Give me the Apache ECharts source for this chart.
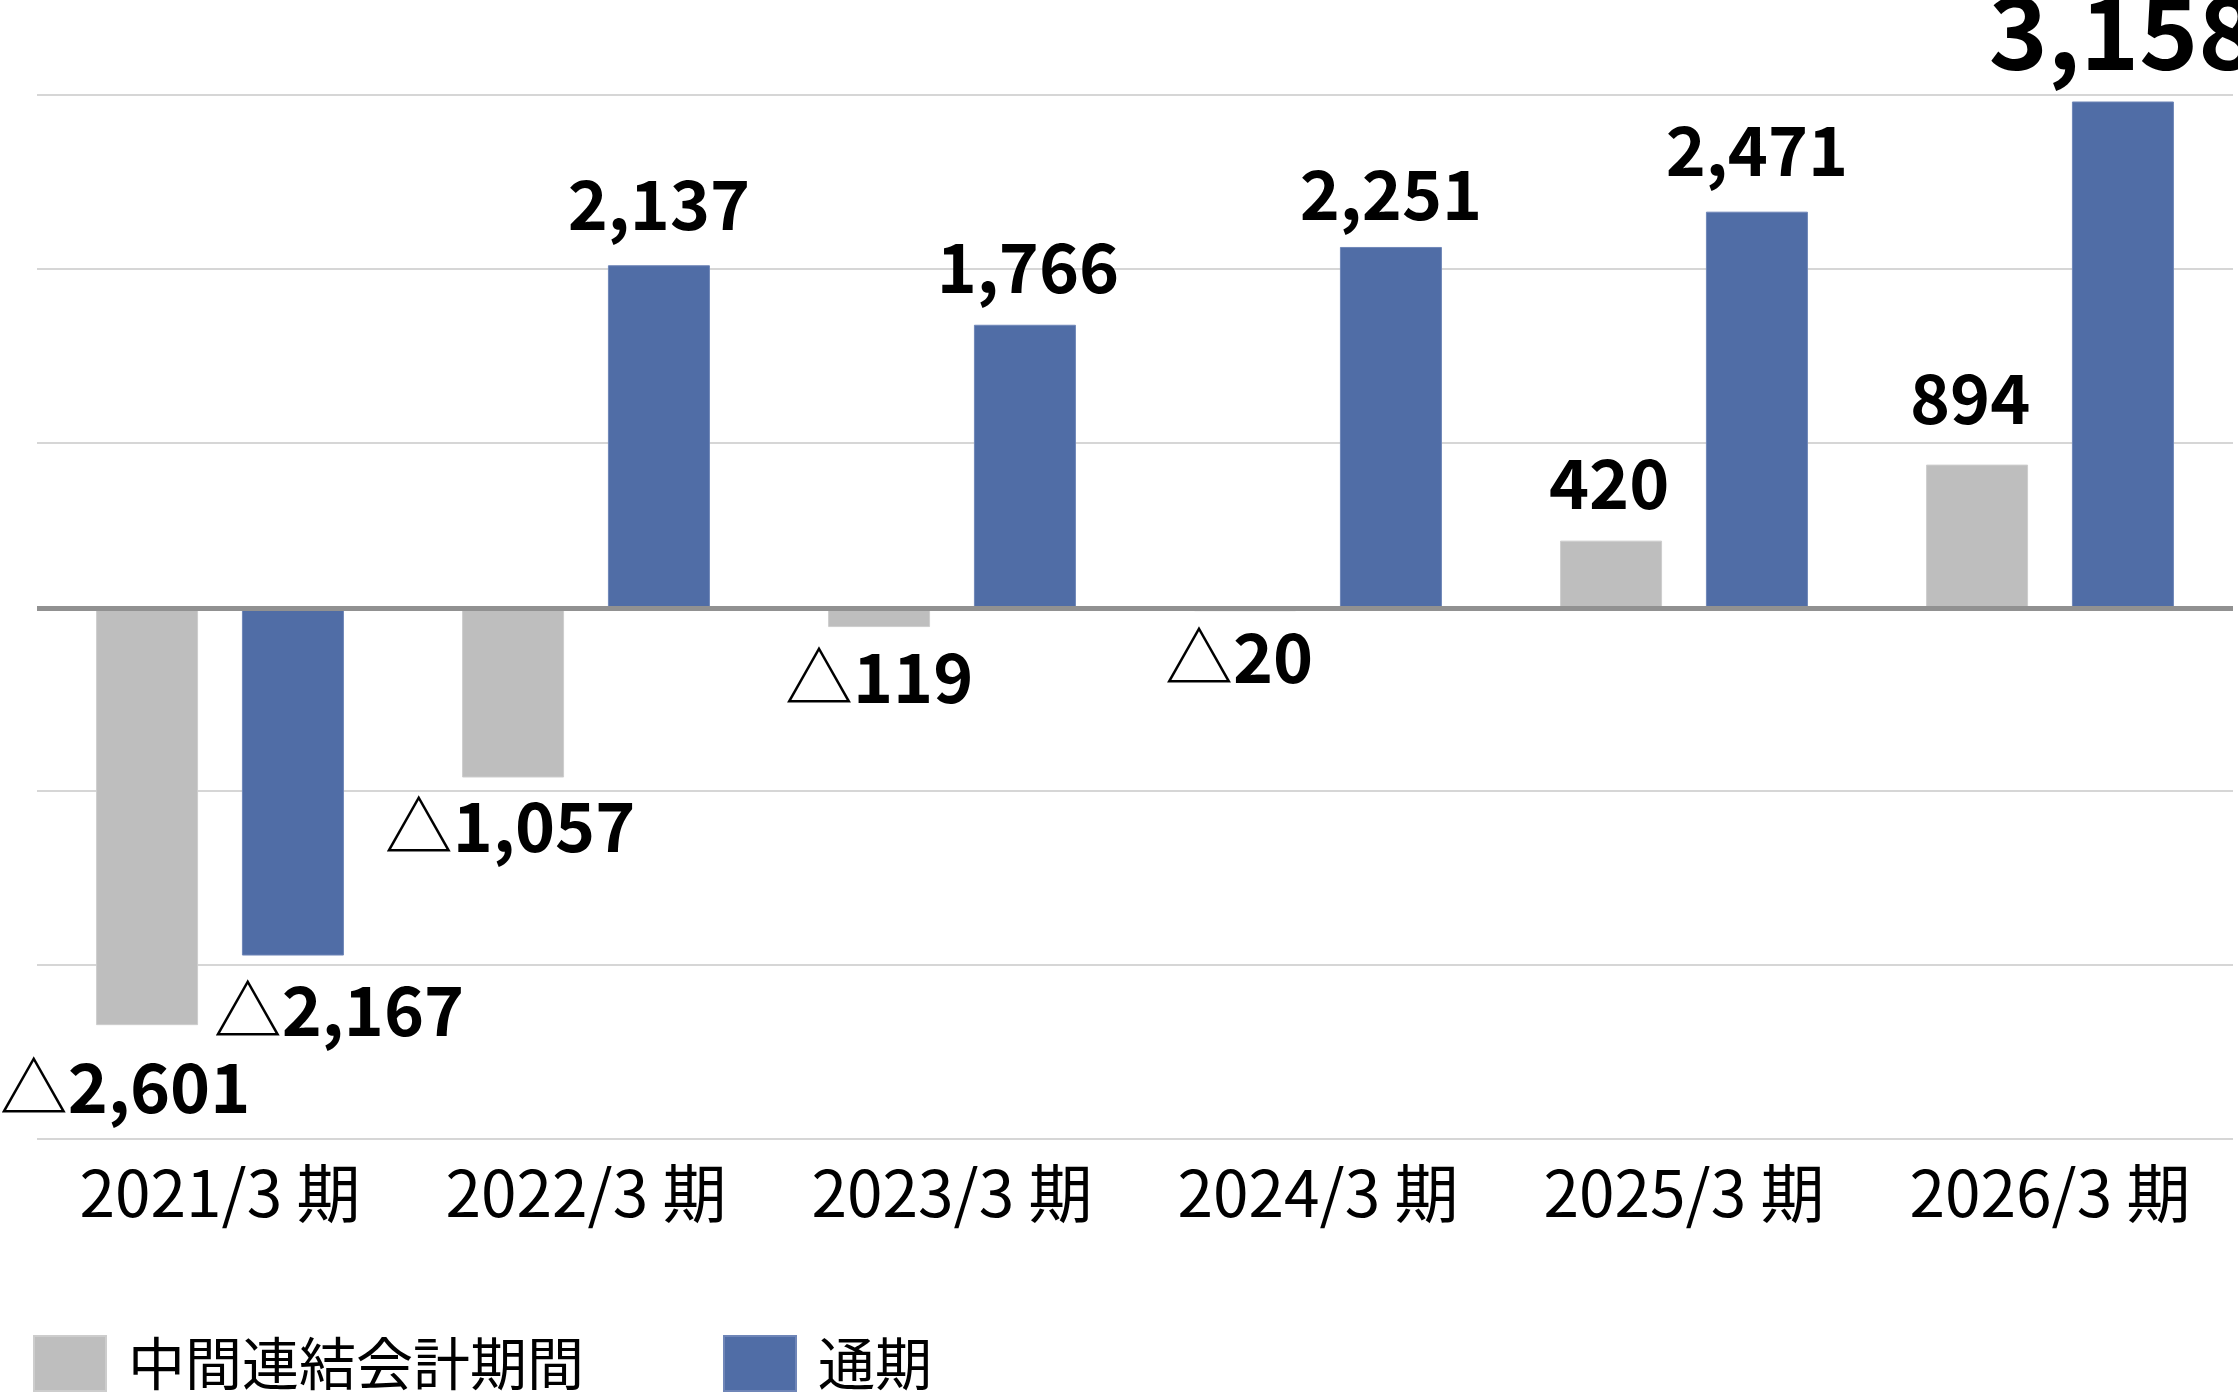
<!DOCTYPE html>
<html>
<head>
<meta charset="utf-8">
<script src="https://cdn.jsdelivr.net/npm/echarts@6/dist/echarts.min.js"></script>
<style>
html,body{margin:0;padding:0;background:#fff;}
#chart{width:2238px;height:1394px;}
</style>
</head>
<body>
<div id="chart"></div>
<script>
// ---- data ----
const categories = ['2021/3 期', '2022/3 期', '2023/3 期', '2024/3 期', '2025/3 期', '2026/3 期'];
const interimValues = [-2601, -1057, -119, -20, 420, 894];   // 中間連結会計期間
const fullYearValues = [-2167, 2137, 1766, 2251, 2471, 3158]; // 通期
const seriesNames = ['中間連結会計期間', '通期'];

// ---- label nudges (style only) ----
const interimLabelNudge = [[-22, 13], [-3, 0], [0, 1], [-6, -3], [-2, -2], [-7, -11]];
const fullYearLabelNudge = [[46, 6], [0, -6], [3, -3], [0, 2], [0, -7], [0, 2]];
const emphasisIndex = 5; // larger label on the last full-year bar

const FONT = "'Noto Sans CJK JP', 'Noto Sans', sans-serif";
const fmt = v => Math.abs(v).toLocaleString('en-US');

function richFor(size) {
  return {
    t: { fontSize: size, fontWeight: 'normal', fontFamily: FONT, color: '#000' },
    n: { fontSize: size, fontWeight: 'bold', fontFamily: FONT, color: '#000' }
  };
}
function buildData(values, nudges, bigIndex) {
  return values.map((v, i) => {
    const size = (i === bigIndex) ? 100 : 68;
    return {
      value: v,
      label: {
        position: v < 0 ? 'bottom' : 'top',
        distance: v < 0 ? 15 : 21,
        offset: nudges[i],
        rich: richFor(size)
      }
    };
  });
}
const labelFormatter = p => (p.value < 0 ? '{t|△}{n|' + fmt(p.value) + '}' : '{n|' + fmt(p.value) + '}');

const chart = echarts.init(document.getElementById('chart'));
chart.setOption({
  animation: false,
  backgroundColor: '#fff',
  grid: { left: 37, right: 5, top: 94.6, bottom: 255.3, containLabel: false },
  legend: {
    left: 33, top: 1328, padding: 0,
    itemWidth: 72, itemHeight: 55, itemGap: 139,
    icon: 'rect',
    textStyle: { fontSize: 57, fontFamily: FONT, color: '#000', padding: [0, 0, 14, 17], lineHeight: 57 },
    data: seriesNames
  },
  xAxis: {
    type: 'category',
    data: categories,
    axisLine: { show: false },
    axisTick: { show: false },
    splitLine: { show: false },
    axisLabel: { fontSize: 64, fontFamily: FONT, color: '#000', margin: 22 }
  },
  yAxis: [
    {
      type: 'value', min: -3309, max: 3201,
      axisLine: { show: false }, axisTick: { show: false },
      axisLabel: { show: false }, splitLine: { show: false }
    },
    {
      type: 'value', min: 0, max: 6, interval: 1, position: 'left',
      axisLine: { show: false }, axisTick: { show: false }, axisLabel: { show: false },
      splitLine: { show: true, lineStyle: { width: 1.5, color: ['#c8c8c8', '#c8c8c8', '#c8c8c8', 'rgba(0,0,0,0)', '#c8c8c8', '#c8c8c8', '#c8c8c8'] } }
    }
  ],
  series: [
    {
      name: seriesNames[0], type: 'bar', yAxisIndex: 0,
      barWidth: 102, barGap: '43%',
      itemStyle: { color: '#bebebe', borderColor: '#cdcdcd', borderWidth: 1 },
      label: { show: true, formatter: labelFormatter },
      data: buildData(interimValues, interimLabelNudge, -1),
      markLine: {
        silent: true, symbol: 'none', label: { show: false },
        lineStyle: { color: '#919191', width: 5, type: 'solid' },
        data: [{ yAxis: 0 }]
      }
    },
    {
      name: seriesNames[1], type: 'bar', yAxisIndex: 0,
      barWidth: 102, barGap: '43%',
      itemStyle: { color: '#506da6', borderColor: '#6f86b8', borderWidth: 1 },
      label: { show: true, formatter: labelFormatter },
      data: buildData(fullYearValues, fullYearLabelNudge, emphasisIndex)
    }
  ]
});
</script>
</body>
</html>
